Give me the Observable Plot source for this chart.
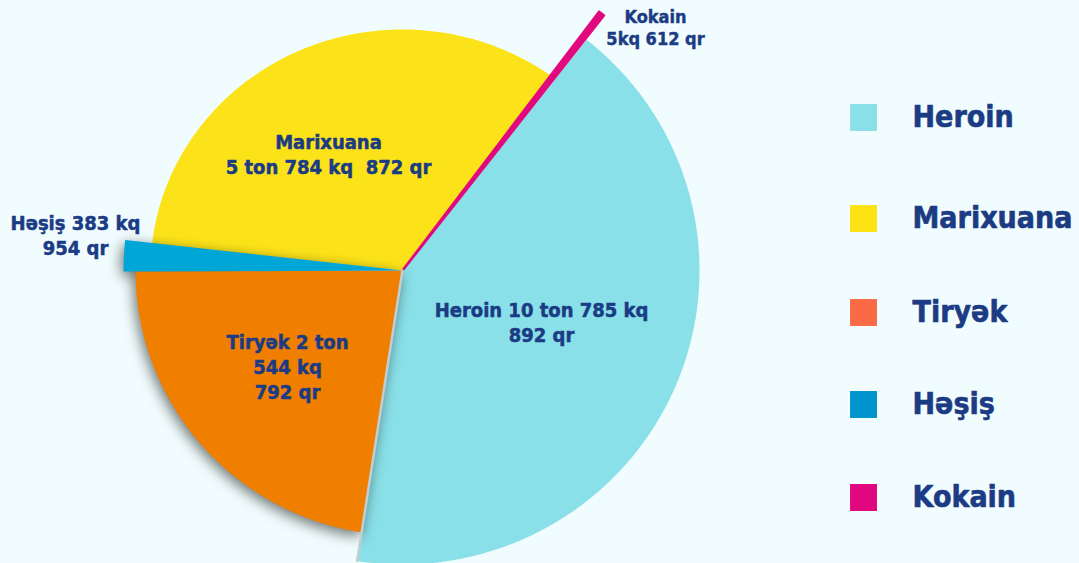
<!DOCTYPE html>
<html>
<head>
<meta charset="utf-8">
<script src="https://cdn.jsdelivr.net/npm/d3@7"></script>
<script src="https://cdn.jsdelivr.net/npm/@observablehq/plot@0.6"></script>
<style>
  html, body { margin: 0; padding: 0; background: #f0fcfd; }
  #chart svg { display: block; }
  #chart text { font-stretch: condensed; white-space: pre; paint-order: stroke; }
</style>
</head>
<body>
<div id="chart"></div>
<script>
// ---- data ----
// slices in clockwise order, starting at the Heroin slice
const categories = ["Heroin", "Tiryək", "Həşiş", "Marixuana", "Kokain"];
// share of the pie in %
const shares = [41.8, 22.5, 1.8, 33.6, 0.3];
// amount labels written on the slices
const amountLabels = [
  "Heroin 10 ton 785 kq\n892 qr",
  "Tiryək 2 ton\n544 kq\n792 qr",
  "Həşiş 383 kq\n954 qr",
  "Marixuana\n5 ton 784 kq  872 qr",
  "Kokain\n5kq 612 qr"
];
// legend entries, in legend order
const legendLabels = ["Heroin", "Marixuana", "Tiryək", "Həşiş", "Kokain"];

// ---- layout & style ----
const W = 1079, H = 563, CX = 402, CY = 270;
const START = 38.3; // degrees clockwise from 12 o'clock where Heroin begins
// [horizontal, vertical] outer radius of each slice (px)
const radius = {"Heroin": [297, 294], "Tiryək": [267, 265], "Həşiş": [279, 279], "Marixuana": [252, 241], "Kokain": [325, 325]};
const sliceColor = {"Heroin": "#8ae0e8", "Tiryək": "#f07f00", "Həşiş": "#00a6d6", "Marixuana": "#fce319", "Kokain": "#e2097f"};
const legendColor = {"Heroin": "#8ae0e8", "Marixuana": "#fde314", "Tiryək": "#f96a45", "Həşiş": "#0094cc", "Kokain": "#e0077f"};
const labelOffset = {"Heroin": [139, 51], "Tiryək": [-115, 95], "Həşiş": [-327, -36], "Marixuana": [-74, -117], "Kokain": [253, -244]};
const legendSquareX = 863, legendTextX = 912;
const legendRowY = [117, 218, 312, 404, 497];
const textColor = "#1b3b84";
const font = "'DejaVu Sans Condensed', 'DejaVu Sans', Verdana, sans-serif";

// ---- geometry from data ----
const total = d3.sum(shares);
let acc = 0;
const slices = categories.map((name, i) => {
  const a0 = START + acc / total * 360;
  acc += shares[i];
  const a1 = START + acc / total * 360;
  return {name, a0, a1, r: radius[name], label: amountLabels[i]};
});
const polar = (deg, r) => [r[0] * Math.sin(deg * Math.PI / 180), r[1] * Math.cos(deg * Math.PI / 180)];
function wedge(s) {
  const n = Math.max(2, Math.ceil((s.a1 - s.a0) / 0.5));
  const out = [{name: s.name, x: 0, y: 0}];
  for (let k = 0; k <= n; ++k) {
    const [x, y] = polar(s.a0 + (s.a1 - s.a0) * k / n, s.r);
    out.push({name: s.name, x, y});
  }
  out.push({name: s.name, x: 0, y: 0});
  return out;
}
const byName = Object.fromEntries(slices.map(s => [s.name, s]));
const basePts = ["Heroin", "Marixuana"].flatMap(n => wedge(byName[n]));
const shadowPts = ["Tiryək", "Həşiş"].flatMap(n => wedge(byName[n]));
const kokainPts = wedge(byName["Kokain"]);
const her = byName["Heroin"];
const [ex, ey] = polar(her.a1, her.r);
const edgePts = [{x: 0, y: 0}, {x: ex, y: ey}];

const bigLabels = slices.filter(s => s.name !== "Kokain");
const smallLabels = slices.filter(s => s.name === "Kokain");

const chart = Plot.plot({
  width: W, height: H,
  margin: 0,
  x: {domain: [-CX, W - CX], axis: null},
  y: {domain: [CY - H, CY], axis: null},
  color: {type: "identity"},
  style: {background: "#f0fcfd", fontFamily: font, overflow: "visible"},
  marks: [
    Plot.line(basePts, {x: "x", y: "y", z: "name", fill: d => sliceColor[d.name], stroke: "none", curve: "linear"}),
    Plot.line(kokainPts, {x: "x", y: "y", z: "name", fill: d => sliceColor[d.name], stroke: d => sliceColor[d.name], strokeWidth: 2.5, strokeLinejoin: "round", curve: "linear"}),
    Plot.line(shadowPts, {x: "x", y: "y", z: "name", fill: d => sliceColor[d.name], stroke: "none", curve: "linear"}),
    Plot.line(edgePts, {x: "x", y: "y", stroke: "#c4cdd1", strokeWidth: 2.5}),
    Plot.text(bigLabels, {
      x: d => labelOffset[d.name][0], y: d => -labelOffset[d.name][1],
      text: "label", fontSize: 20, fontWeight: "bold", lineHeight: 1.25,
      fill: textColor, stroke: textColor, strokeWidth: 0.5,
      textAnchor: "middle", lineAnchor: "middle"
    }),
    Plot.text(smallLabels, {
      x: d => labelOffset[d.name][0], y: d => -labelOffset[d.name][1],
      text: "label", fontSize: 18, fontWeight: "bold", lineHeight: 1.22,
      fill: textColor, stroke: textColor, strokeWidth: 0.4,
      textAnchor: "middle", lineAnchor: "middle"
    }),
    Plot.dot(legendLabels, {
      x: () => legendSquareX - CX, y: (d, i) => CY - legendRowY[i],
      symbol: "square", r: 15.2, fill: d => legendColor[d]
    }),
    Plot.text(legendLabels, {
      x: () => legendTextX - CX, y: (d, i) => CY - legendRowY[i],
      text: d => d, fontSize: 30, fontWeight: "bold",
      fill: textColor, stroke: textColor, strokeWidth: 0.6,
      textAnchor: "start", lineAnchor: "middle"
    })
  ]
});
// soft drop shadow under the Tiryək / Həşiş slices (third mark group)
const groups = chart.querySelectorAll(":scope > g");
if (groups[2]) groups[2].style.filter = "drop-shadow(-2px 4px 7px rgba(0,0,0,0.55))";
document.getElementById("chart").appendChild(chart);
</script>
</body>
</html>
